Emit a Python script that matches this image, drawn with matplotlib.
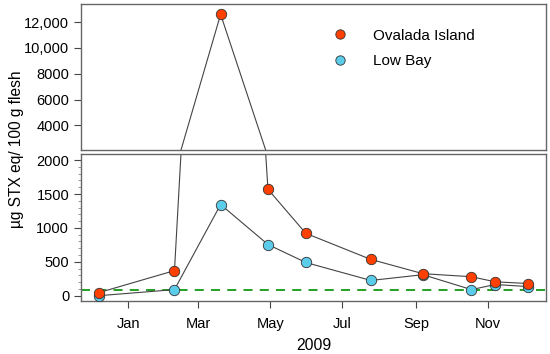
import numpy as np
import matplotlib
matplotlib.use("Agg")
import matplotlib.pyplot as plt
import matplotlib.ticker as mticker
from datetime import datetime

plt.rcParams['font.family'] = ['Liberation Sans', 'DejaVu Sans']

# sampling dates and toxin values (ug STX eq / 100 g flesh)
dates = ["2008-12-07", "2009-02-09", "2009-03-20", "2009-04-29", "2009-05-31",
         "2009-07-25", "2009-09-07", "2009-10-18", "2009-11-07", "2009-12-05"]
ovalada = [45, 370, 12600, 1570, 920, 535, 325, 280, 205, 180]
lowbay = [0, 90, 1345, 755, 490, 225, 310, 90, 165, 135]
limit = 80

month_ticks = ["2009-01-01", "2009-03-01", "2009-05-01", "2009-07-01", "2009-09-01", "2009-11-01"]
month_labels = ["Jan", "Mar", "May", "Jul", "Sep", "Nov"]

x = [datetime.strptime(d, "%Y-%m-%d") for d in dates]
xt = [datetime.strptime(d, "%Y-%m-%d") for d in month_ticks]

W, H = 550, 354
fig = plt.figure(figsize=(5.5, 3.54), dpi=100)
ax_top = fig.add_axes([81/W, 1-150/H, 465/W, 146/H])
ax_bot = fig.add_axes([81/W, 1-301/H, 465/W, 147/H])

orange = "#FF4000"
blue = "#5BCDEA"
edge = "#333333"

for ax in (ax_top, ax_bot):
    ax.plot(x, ovalada, '-', color="#444444", lw=0.8, zorder=2)
    ax.plot(x, lowbay, '-', color="#444444", lw=0.8, zorder=2)
    ax.plot(x, lowbay, 'o', color=blue, mec=edge, mew=0.6, ms=7.5, zorder=3, label="Low Bay")
    ax.plot(x, ovalada, 'o', color=orange, mec=edge, mew=0.6, ms=7.5, zorder=4, label="Ovalada Island")
    ax.set_xlim(datetime(2008, 11, 22), datetime(2009, 12, 20))
    for s in ax.spines.values():
        s.set_color("#666666")
        s.set_linewidth(1.0)

ax_bot.axhline(limit, color="#119911", ls=(0, (5, 4)), lw=1.3, zorder=1)

ax_top.set_ylim(2100, 13400)
ax_top.set_yticks([4000, 6000, 8000, 10000, 12000])
ax_top.set_yticklabels(["4000", "6000", "8000", "10,000", "12,000"])
ax_top.set_xticks([])

ax_bot.set_ylim(-78, 2090)
ax_bot.set_yticks([0, 500, 1000, 1500, 2000])
ax_bot.yaxis.set_minor_locator(mticker.MultipleLocator(100))
ax_bot.set_xticks(xt)
ax_bot.set_xticklabels(month_labels)
ax_bot.set_xlabel("2009", fontsize=11.3, labelpad=5)

for ax in (ax_top, ax_bot):
    ax.tick_params(axis='y', which='major', labelsize=10.5, length=5, width=0.8, color="#444444")
    ax.tick_params(axis='y', which='minor', length=2, width=0.6, color="#888888")
    ax.tick_params(axis='x', labelsize=10.5, length=5, width=0.8, color="#444444", pad=6.5)

h, l = ax_top.get_legend_handles_labels()
ax_top.legend(h[::-1], l[::-1], loc='upper left', bbox_to_anchor=(0.512, 0.925),
              frameon=False, fontsize=11, handletextpad=1.6, labelspacing=0.75,
              markerscale=0.9, handlelength=1.0)

fig.text(17/W, 1-149/H, "µg STX eq/ 100 g flesh", rotation=90, va='center', ha='center', fontsize=11.2)

fig.savefig("out.png", dpi=100)
